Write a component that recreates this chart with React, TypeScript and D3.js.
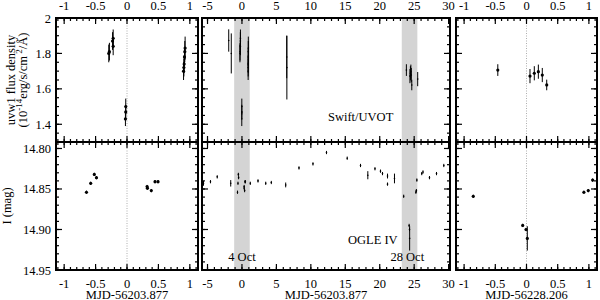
import React from "react";
import * as d3 from "d3";

// MJD offsets: left/middle relative to 56203.877, right relative to 56228.206
const EPOCH_SHIFT = 24.329;

// Swift/UVOT uvw1 (days since MJD 56203.877, flux 1e-14, error)
const uvotDay = [-1.92, -1.55, -0.29, -0.28, -0.23, -0.22, -0.22, -0.02, -0.02, -0.025, 0.9, 0.905, 0.91, 0.915, 0.92, 0.925, 6.5, 6.52, 23.869, 24.385, 24.454, 24.519, 24.582, 24.653, 25.51];
const uvotFlux = [1.873, 1.8, 1.8, 1.81, 1.87, 1.885, 1.84, 1.5, 1.47, 1.43, 1.7, 1.72, 1.74, 1.78, 1.81, 1.83, 1.78, 1.72, 1.706, 1.672, 1.688, 1.697, 1.678, 1.622, 1.655];
const uvotErr = [0.063, 0.113, 0.05, 0.05, 0.05, 0.05, 0.05, 0.045, 0.04, 0.04, 0.05, 0.05, 0.05, 0.05, 0.06, 0.065, 0.12, 0.18, 0.033, 0.04, 0.04, 0.04, 0.04, 0.03, 0.04];

// OGLE IV I band (days since MJD 56203.877, mag, error)
const ogleDay = [-5.58, -4.57, -3.59, -1.63, -0.645, -0.578, -0.52, -0.486, 0.32, 0.325, 0.387, 0.446, 0.494, 1.21, 2.33, 3.45, 4.26, 6.35, 8.28, 10.31, 12.27, 15.28, 17.21, 18.27, 19.31, 20.11, 20.4, 21.13, 21.13, 22.14, 23.476, 24.268, 24.321, 24.342, 25.249, 25.319, 25.389, 26.1, 26.28, 27.22, 28.24, 29.3];
const ogleMag = [14.843, 14.841, 14.835, 14.843, 14.854, 14.843, 14.832, 14.836, 14.847, 14.849, 14.852, 14.841, 14.841, 14.843, 14.84, 14.843, 14.842, 14.845, 14.824, 14.819, 14.805, 14.812, 14.821, 14.833, 14.825, 14.828, 14.831, 14.834, 14.844, 14.837, 14.859, 14.895, 14.9, 14.911, 14.854, 14.852, 14.839, 14.831, 14.829, 14.836, 14.831, 14.821];
const ogleErr = [0.003, 0.002, 0.002, 0.004, 0.002, 0.002, 0.002, 0.002, 0.002, 0.002, 0.002, 0.002, 0.002, 0.002, 0.002, 0.002, 0.002, 0.003, 0.002, 0.002, 0.002, 0.002, 0.002, 0.005, 0.002, 0.002, 0.002, 0.003, 0.002, 0.006, 0.002, 0.002, 0.002, 0.015, 0.002, 0.002, 0.002, 0.002, 0.002, 0.002, 0.002, 0.002];

const zoomTicks = [-1, -0.5, 0, 0.5, 1];
const zoomTickLabels = ["-1", "-0.5", "0", "0.5", "1"];
const midTicks = [-5, 0, 5, 10, 15, 20, 25, 30];
const midTickLabels = ["-5", "0", "5", "10", "15", "20", "25", "30"];
const fluxTicks = [1.4, 1.6, 1.8, 2.0];
const fluxTickLabels = ["1.4", "1.6", "1.8", "2"];
const magTicks = [14.8, 14.85, 14.9, 14.95];
const magTickLabels = ["14.80", "14.85", "14.90", "14.95"];

const FONT = "'Liberation Serif','Times New Roman',serif";

function minorValues(domain: number[], step: number) {
  const lo = Math.min(domain[0], domain[1]);
  const hi = Math.max(domain[0], domain[1]);
  const out: number[] = [];
  for (let i = Math.ceil(lo / step - 1e-9); i * step <= hi + 1e-9; i++) out.push(+(i * step).toFixed(6));
  return out;
}

export default function App() {
  const rows = [
    { key: "top", y0: 18, y1: 142, y: d3.scaleLinear().domain([1.3, 2.0]).range([142, 18]), major: fluxTicks, labels: fluxTickLabels, minorStep: 0.05, day: uvotDay, val: uvotFlux, err: uvotErr },
    { key: "bot", y0: 142, y1: 270, y: d3.scaleLinear().domain([14.792, 14.95]).range([142, 270]), major: magTicks, labels: magTickLabels, minorStep: 0.01, day: ogleDay, val: ogleMag, err: ogleErr },
  ];
  const cols = [
    { key: "L", x0: 56, x1: 198, shift: 0, x: d3.scaleLinear().domain([-1.13, 1.13]).range([56, 198]), major: zoomTicks, labels: zoomTickLabels, minorStep: 0.1, zero: true, xlabel: "MJD-56203.877", r: 1.6 },
    { key: "M", x0: 202, x1: 450, shift: 0, x: d3.scaleLinear().domain([-5.8, 30.2]).range([202, 450]), major: midTicks, labels: midTickLabels, minorStep: 1, zero: false, xlabel: "MJD-56203.877", r: 0.8 },
    { key: "R", x0: 456, x1: 597, shift: EPOCH_SHIFT, x: d3.scaleLinear().domain([-1.13, 1.13]).range([456, 597]), major: zoomTicks, labels: zoomTickLabels, minorStep: 0.1, zero: true, xlabel: "MJD-56228.206", r: 1.6 },
  ];
  const MAJ = 6, MIN = 3;
  const mid = cols[1];
  const bands = [[-1.13, 1.13], [EPOCH_SHIFT - 1.13, EPOCH_SHIFT + 1.13]];

  return (
    <svg width={600} height={300} style={{ position: "absolute", left: 0, top: 0, background: "#fff" }} fontFamily={FONT}>
      <defs>
        {cols.map((c) => rows.map((r) => (
          <clipPath id={`clip-${c.key}-${r.key}`} key={`${c.key}-${r.key}`}>
            <rect x={c.x0} y={r.y0} width={c.x1 - c.x0} height={r.y1 - r.y0} />
          </clipPath>
        )))}
      </defs>
      {/* grey bands in middle column */}
      {bands.map((b, i) => (
        <rect key={i} x={mid.x(b[0])} y={18} width={mid.x(b[1]) - mid.x(b[0])} height={252} fill="#d4d4d4" />
      ))}
      {/* zero lines */}
      {cols.filter((c) => c.zero).map((c) => (
        <line key={c.key} x1={c.x(0)} x2={c.x(0)} y1={18} y2={270} stroke="#999" strokeWidth={0.8} strokeDasharray="1,1.5" />
      ))}
      {/* data */}
      {cols.map((c) => rows.map((r) => (
        <g key={`d-${c.key}-${r.key}`} clipPath={`url(#clip-${c.key}-${r.key})`}>
          {r.day.map((d, i) => {
            const px = c.x(d - c.shift);
            return (
              <g key={i}>
                <line x1={px} x2={px} y1={r.y(r.val[i] - r.err[i])} y2={r.y(r.val[i] + r.err[i])} stroke="#000" strokeWidth={1} />
                <circle cx={px} cy={r.y(r.val[i])} r={c.r} fill="#000" />
              </g>
            );
          })}
        </g>
      )))}
      {/* ticks and frames */}
      {cols.map((c) => rows.map((r) => {
        const xMinor = minorValues(c.x.domain(), c.minorStep);
        const yMinor = minorValues(r.y.domain(), r.minorStep);
        return (
          <g key={`a-${c.key}-${r.key}`} stroke="#000" strokeWidth={1.2}>
            {xMinor.map((v) => (
              <g key={`xm${v}`}>
                <line x1={c.x(v)} x2={c.x(v)} y1={r.y0} y2={r.y0 + MIN} />
                <line x1={c.x(v)} x2={c.x(v)} y1={r.y1} y2={r.y1 - MIN} />
              </g>
            ))}
            {c.major.map((v) => (
              <g key={`xM${v}`}>
                <line x1={c.x(v)} x2={c.x(v)} y1={r.y0} y2={r.y0 + MAJ} />
                <line x1={c.x(v)} x2={c.x(v)} y1={r.y1} y2={r.y1 - MAJ} />
              </g>
            ))}
            {yMinor.map((v) => (
              <g key={`ym${v}`}>
                <line x1={c.x0} x2={c.x0 + MIN} y1={r.y(v)} y2={r.y(v)} />
                <line x1={c.x1} x2={c.x1 - MIN} y1={r.y(v)} y2={r.y(v)} />
              </g>
            ))}
            {r.major.map((v) => (
              <g key={`yM${v}`}>
                <line x1={c.x0} x2={c.x0 + MAJ} y1={r.y(v)} y2={r.y(v)} />
                <line x1={c.x1} x2={c.x1 - MAJ} y1={r.y(v)} y2={r.y(v)} />
              </g>
            ))}
            <rect x={c.x0} y={r.y0} width={c.x1 - c.x0} height={r.y1 - r.y0} fill="none" strokeWidth={2} />
          </g>
        );
      }))}
      {/* x tick labels top and bottom */}
      {cols.map((c) => c.major.map((v, i) => (
        <g key={`xl-${c.key}-${i}`} fontSize={12.5} textAnchor="middle" fill="#000">
          <text x={c.x(v)} y={10}>{c.labels[i]}</text>
          <text x={c.x(v)} y={288}>{c.labels[i]}</text>
        </g>
      )))}
      {/* x axis titles */}
      {cols.map((c) => (
        <text key={`xt-${c.key}`} x={(c.x0 + c.x1) / 2} y={298.5} fontSize={12.5} textAnchor="middle">{c.xlabel}</text>
      ))}
      {/* y tick labels */}
      {rows.map((r) => r.major.map((v, i) => (
        <text key={`yl-${r.key}-${i}`} x={51} y={r.y(v) + 4.5} fontSize={12.5} textAnchor="end">{r.labels[i]}</text>
      )))}
      {/* y axis titles */}
      <text transform="translate(15,80) rotate(-90)" fontSize={12.5} textAnchor="middle">uvw1 flux density</text>
      <text transform="translate(27,80) rotate(-90)" fontSize={12.5} textAnchor="middle">
        (10<tspan dy={-5} fontSize={9}>-14</tspan><tspan dy={5}>erg/s/cm</tspan><tspan dy={-5} fontSize={9}> 2</tspan><tspan dy={5}>/Å)</tspan>
      </text>
      <text transform="translate(11,206) rotate(-90)" fontSize={12.5} textAnchor="middle">I (mag)</text>
      {/* annotations */}
      <text x={328} y={121} fontSize={12.5}>Swift/UVOT</text>
      <text x={348} y={244} fontSize={12.5}>OGLE IV</text>
      <text x={mid.x(0)} y={261} fontSize={12.5} textAnchor="middle">4 Oct</text>
      <text x={mid.x(24)} y={261} fontSize={12.5} textAnchor="middle">28 Oct</text>
    </svg>
  );
}
